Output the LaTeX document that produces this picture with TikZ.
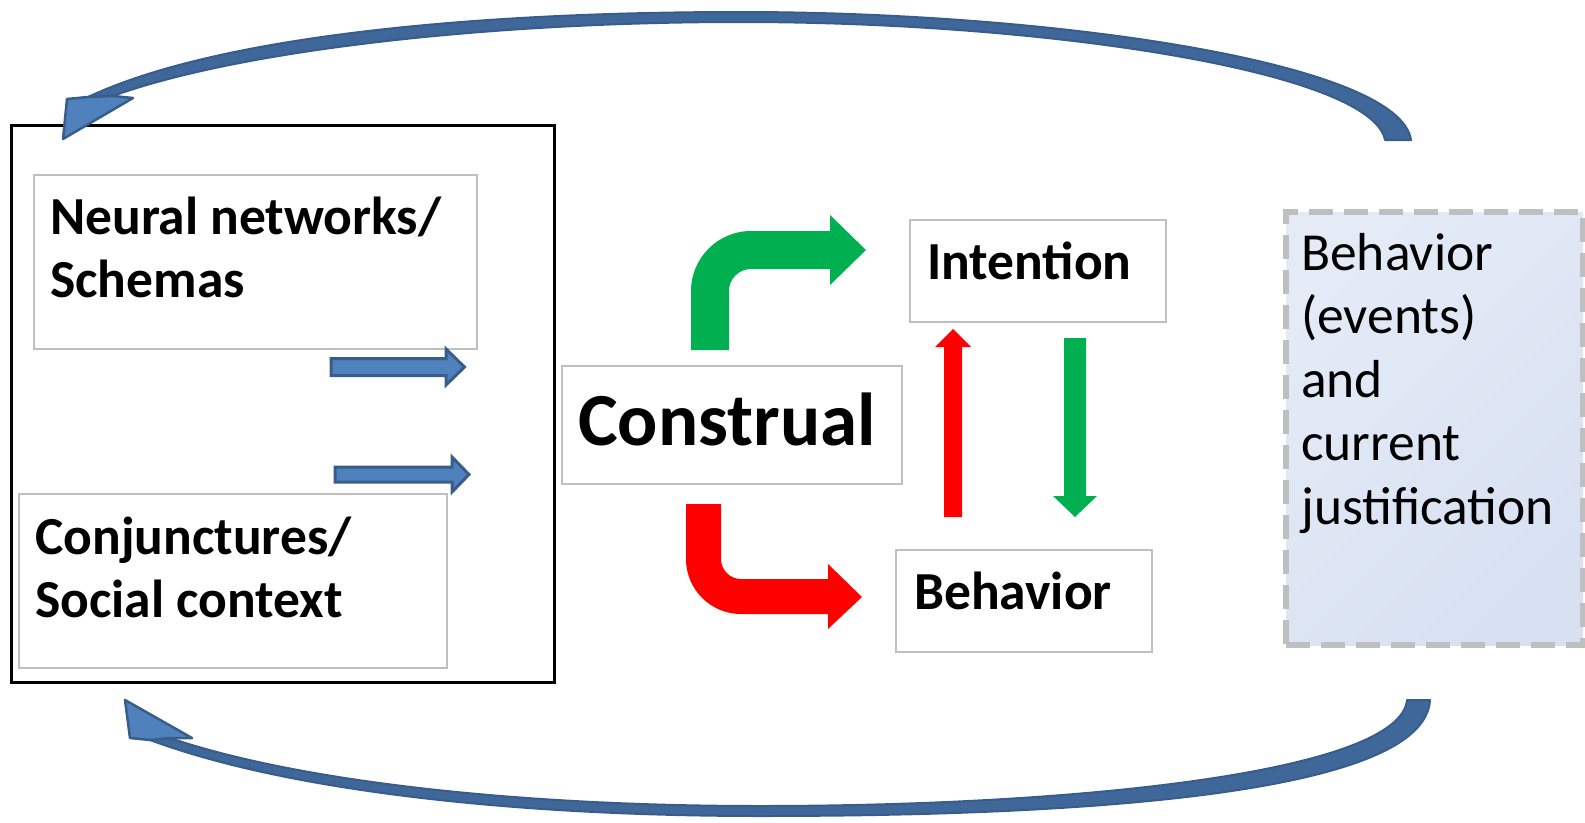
\documentclass[tikz,border=0pt]{standalone}
\usepackage{fontspec}
\setmainfont{Carlito}
\definecolor{blueF}{HTML}{4F81BD}
\definecolor{blueD}{HTML}{385D8A}
\definecolor{bandF}{HTML}{40679A}
\definecolor{grayB}{HTML}{BFBFBF}
\definecolor{grn}{HTML}{00B050}
\definecolor{rd}{HTML}{FF0000}
\definecolor{shA}{HTML}{E4EBF7}
\definecolor{shB}{HTML}{B8CAEA}
\definecolor{shC}{HTML}{D8E1F2}
\begin{document}
\begin{tikzpicture}[x=1pt,y=-1pt,
  gbox/.style={draw=grayB, line width=2pt, fill=white, anchor=north west, inner sep=0pt},
  bfont/.style={font=\bfseries\fontsize{53.5}{63}\selectfont, anchor=base west, inner sep=0pt},
  band/.style={fill=bandF, draw=blueD, line width=2pt, line join=round},
  ahead/.style={fill=blueF, draw=blueD, line width=2.5pt, line join=round},
  sarrow/.style={fill=blueF, draw=blueD, line width=3pt, line join=miter}]
\useasboundingbox (0,0) rectangle (1585,822);

% left outer box
\node[draw=black, line width=3pt, anchor=north west, inner sep=0pt, minimum width=543pt, minimum height=557pt] (outer) at (9.5,123.5) {};
\node[gbox, minimum width=443pt, minimum height=174pt] (neural) at (33,174) {};
\node[gbox, minimum width=428pt, minimum height=174pt] (conj) at (18,493) {};
\node[bfont] (neuraltxt) at (50,234) {\begin{tabular}[t]{@{}l@{}}Neural networks/\\Schemas\end{tabular}};
\node[bfont] (conjtxt) at (35,554) {\begin{tabular}[t]{@{}l@{}}Conjunctures/\\Social context\end{tabular}};

% construal
\node[gbox, minimum width=340pt, minimum height=118pt] (constr) at (561,365) {};
\node[font=\bfseries\fontsize{75}{80}\selectfont, anchor=base west, inner sep=0pt] (constrtxt) at (578,445) {Construal};

% intention / behavior
\node[gbox, minimum width=256pt, minimum height=102pt] (intent) at (909,219) {};
\node[bfont] (intenttxt) at (927,279) {Intention};
\node[gbox, minimum width=256pt, minimum height=102pt] (behav) at (895,549) {};
\node[bfont] (behavtxt) at (914,609) {Behavior};

% right dashed box
\node[draw=grayB, line width=6pt, dash pattern=on 24pt off 11pt, top color=shA, middle color=shB, bottom color=shC, shading angle=45, anchor=north west, inner sep=0pt, minimum width=297pt, minimum height=433pt] (bev) at (1283,209) {};
\node[font=\fontsize{53.5}{63.5}\selectfont, anchor=base west, inner sep=0pt] (bevtxt) at (1301,270) {\begin{tabular}[t]{@{}l@{}}Behavior\\(events)\\and\\current\\justification\end{tabular}};

% small blue arrows
\filldraw[sarrow] (331,358.5) -- (446,358.5) -- (446,349) -- (464.5,367) -- (446,385) -- (446,375.5) -- (331,375.5) -- cycle;
\filldraw[sarrow] (335,467) -- (452,467) -- (452,457) -- (469,474.5) -- (452,492) -- (452,482) -- (335,482) -- cycle;

% green bent arrow
\fill[grn] (691,350) -- (691,291) .. controls (691,257.9) and (717.9,231) .. (751,231) -- (830,231) -- (830,215) -- (866,250) -- (830,285) -- (830,269) -- (751,269) .. controls (738.85,269) and (729,278.85) .. (729,291) -- (729,350) -- cycle;
% red bent arrow
\fill[rd] (686,504) -- (686,559) .. controls (686,589.4) and (710.6,614) .. (741,614) -- (828,614) -- (828,629) -- (862,597) -- (828,564) -- (828,579) -- (741,579) .. controls (730,579) and (721,570) .. (721,559) -- (721,504) -- cycle;

% vertical arrows
\fill[rd] (944,517) -- (944,347) -- (935,347) -- (953,329) -- (971,347) -- (962,347) -- (962,517) -- cycle;
\fill[grn] (1064,338) -- (1064,496) -- (1053,496) -- (1075,517) -- (1097,496) -- (1086,496) -- (1086,338) -- cycle;

% top curved arrow
\filldraw[band] (1385,140) -- (1411,140) .. controls (1400,62) and (1050,12) .. (740,12) .. controls (480,12) and (220,35) .. (88,97) -- (113,96) .. controls (240,50) and (490,22) .. (740,22) .. controls (1050,22) and (1372,72) .. (1385,140) -- cycle;
\filldraw[ahead] (88,97) -- (67,99) -- (63,139) -- (133,98) -- (113,96) -- cycle;

% bottom curved arrow
\filldraw[band] (1407,700) -- (1430,700) .. controls (1425,795) and (1080,816) .. (760,816) .. controls (520,816) and (290,792) .. (150,740) -- (170,738) .. controls (300,782) and (520,806) .. (760,806) .. controls (1080,806) and (1400,772) .. (1407,700) -- cycle;
\filldraw[ahead] (150,740) -- (130,738) -- (125,700) -- (192,738) -- (170,738) -- cycle;
\end{tikzpicture}
\end{document}
